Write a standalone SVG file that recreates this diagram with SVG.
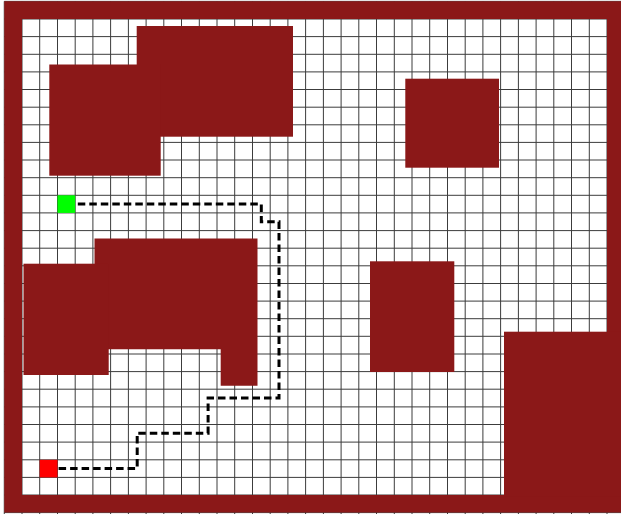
<svg xmlns="http://www.w3.org/2000/svg" width="621" height="514" viewBox="0 0 621 514">
<style>
.obs{fill:#8b1818}
.grid line{stroke:#3c3c3c;stroke-width:1}
.path{fill:none;stroke:#000;stroke-width:3;stroke-dasharray:7.5 4}
</style>
<rect x="0" y="0" width="621" height="514" fill="#fff"/>
<g id="grid" class="grid">
<line x1="4.27" y1="1.37" x2="4.27" y2="514"/>
<line x1="22.0" y1="1.37" x2="22.0" y2="514"/>
<line x1="39.7" y1="1.37" x2="39.7" y2="514"/>
<line x1="57.5" y1="1.37" x2="57.5" y2="514"/>
<line x1="75.2" y1="1.37" x2="75.2" y2="514"/>
<line x1="92.9" y1="1.37" x2="92.9" y2="514"/>
<line x1="110.6" y1="1.37" x2="110.6" y2="514"/>
<line x1="128.4" y1="1.37" x2="128.4" y2="514"/>
<line x1="146.1" y1="1.37" x2="146.1" y2="514"/>
<line x1="163.8" y1="1.37" x2="163.8" y2="514"/>
<line x1="181.5" y1="1.37" x2="181.5" y2="514"/>
<line x1="199.3" y1="1.37" x2="199.3" y2="514"/>
<line x1="217.0" y1="1.37" x2="217.0" y2="514"/>
<line x1="234.7" y1="1.37" x2="234.7" y2="514"/>
<line x1="252.5" y1="1.37" x2="252.5" y2="514"/>
<line x1="270.2" y1="1.37" x2="270.2" y2="514"/>
<line x1="287.9" y1="1.37" x2="287.9" y2="514"/>
<line x1="305.6" y1="1.37" x2="305.6" y2="514"/>
<line x1="323.4" y1="1.37" x2="323.4" y2="514"/>
<line x1="341.1" y1="1.37" x2="341.1" y2="514"/>
<line x1="358.8" y1="1.37" x2="358.8" y2="514"/>
<line x1="376.5" y1="1.37" x2="376.5" y2="514"/>
<line x1="394.3" y1="1.37" x2="394.3" y2="514"/>
<line x1="412.0" y1="1.37" x2="412.0" y2="514"/>
<line x1="429.7" y1="1.37" x2="429.7" y2="514"/>
<line x1="447.5" y1="1.37" x2="447.5" y2="514"/>
<line x1="465.2" y1="1.37" x2="465.2" y2="514"/>
<line x1="482.9" y1="1.37" x2="482.9" y2="514"/>
<line x1="500.6" y1="1.37" x2="500.6" y2="514"/>
<line x1="518.4" y1="1.37" x2="518.4" y2="514"/>
<line x1="536.1" y1="1.37" x2="536.1" y2="514"/>
<line x1="553.8" y1="1.37" x2="553.8" y2="514"/>
<line x1="571.5" y1="1.37" x2="571.5" y2="514"/>
<line x1="589.3" y1="1.37" x2="589.3" y2="514"/>
<line x1="607.0" y1="1.37" x2="607.0" y2="514"/>
<line x1="4.27" y1="1.37" x2="621" y2="1.37"/>
<line x1="4.27" y1="19.0" x2="621" y2="19.0"/>
<line x1="4.27" y1="36.6" x2="621" y2="36.6"/>
<line x1="4.27" y1="54.3" x2="621" y2="54.3"/>
<line x1="4.27" y1="71.9" x2="621" y2="71.9"/>
<line x1="4.27" y1="89.5" x2="621" y2="89.5"/>
<line x1="4.27" y1="107.2" x2="621" y2="107.2"/>
<line x1="4.27" y1="124.8" x2="621" y2="124.8"/>
<line x1="4.27" y1="142.4" x2="621" y2="142.4"/>
<line x1="4.27" y1="160.0" x2="621" y2="160.0"/>
<line x1="4.27" y1="177.7" x2="621" y2="177.7"/>
<line x1="4.27" y1="195.3" x2="621" y2="195.3"/>
<line x1="4.27" y1="212.9" x2="621" y2="212.9"/>
<line x1="4.27" y1="230.6" x2="621" y2="230.6"/>
<line x1="4.27" y1="248.2" x2="621" y2="248.2"/>
<line x1="4.27" y1="265.8" x2="621" y2="265.8"/>
<line x1="4.27" y1="283.5" x2="621" y2="283.5"/>
<line x1="4.27" y1="301.1" x2="621" y2="301.1"/>
<line x1="4.27" y1="318.7" x2="621" y2="318.7"/>
<line x1="4.27" y1="336.3" x2="621" y2="336.3"/>
<line x1="4.27" y1="354.0" x2="621" y2="354.0"/>
<line x1="4.27" y1="371.6" x2="621" y2="371.6"/>
<line x1="4.27" y1="389.2" x2="621" y2="389.2"/>
<line x1="4.27" y1="406.9" x2="621" y2="406.9"/>
<line x1="4.27" y1="424.5" x2="621" y2="424.5"/>
<line x1="4.27" y1="442.1" x2="621" y2="442.1"/>
<line x1="4.27" y1="459.8" x2="621" y2="459.8"/>
<line x1="4.27" y1="477.4" x2="621" y2="477.4"/>
<line x1="4.27" y1="495.0" x2="621" y2="495.0"/>
<line x1="4.27" y1="512.6" x2="621" y2="512.6"/>
</g>
<g id="border" class="obs">
<path d="M4.27 1.37H621V512.6H4.27Z M22 19V495H607V19Z" fill-rule="evenodd"/>
</g>
<g id="obstacles" class="obs">
<rect id="obs1" x="136.7" y="26" width="156.3" height="110.7"/>
<rect id="obs2" x="49.3" y="64.5" width="111.4" height="111.2"/>
<rect id="obs3" x="405.3" y="78.7" width="93.7" height="89"/>
<path id="obs4" d="M94.5 238.5H257.5V385.7H220.7V349.2H94.5Z"/>
<rect id="obs5" x="23.5" y="263.7" width="85.2" height="111.3"/>
<rect id="obs6" x="370" y="261.3" width="84.3" height="110.7"/>
<rect id="obs7" x="504" y="331.7" width="117" height="165"/>
</g>
<g id="connectors">
<polyline class="path" points="66.3,204.1 261.3,204.1 261.3,221.7 279,221.7 279,397.9 208.1,397.9 208.1,433.2 137.2,433.2 137.2,468.5 48.6,468.5"/>
</g>
<g id="start">
<rect x="57.5" y="195.3" width="17.7" height="17.6" fill="#00ff00"/>
</g>
<g id="goal">
<rect x="39.7" y="459.8" width="17.8" height="17.6" fill="#ff0000"/>
</g>
</svg>
